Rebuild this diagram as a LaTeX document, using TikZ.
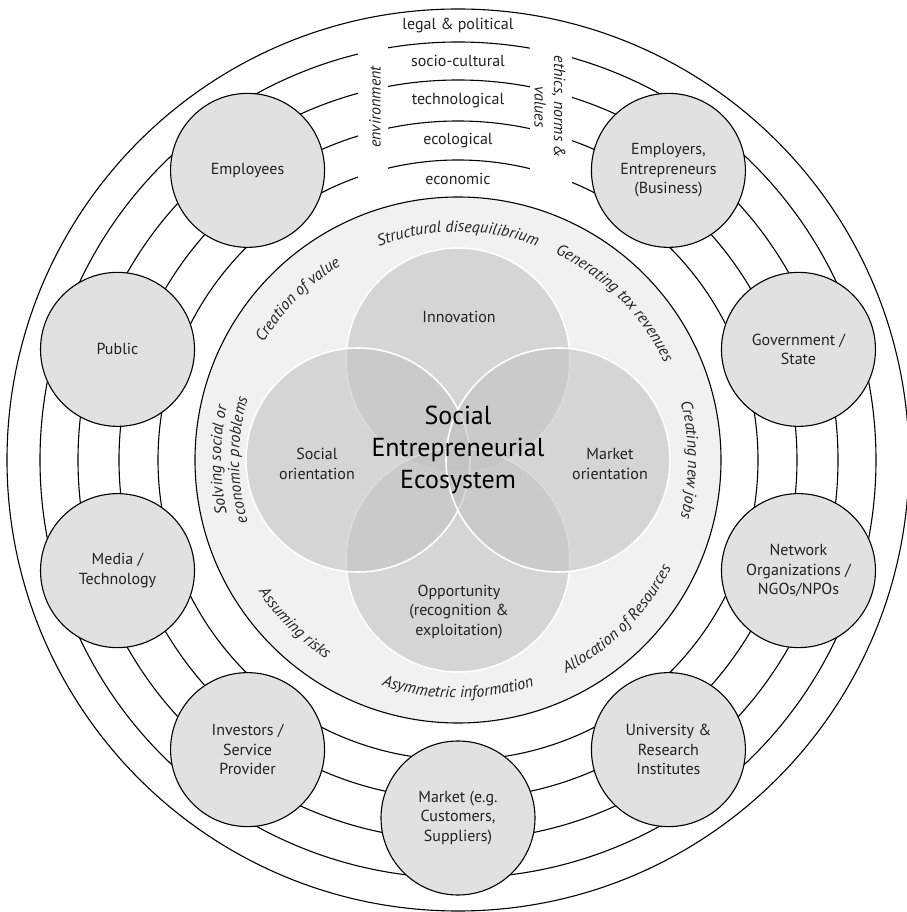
\documentclass[tikz,border=0pt]{standalone}
\usepackage{fontspec}
\setmainfont{PT Sans}
\usetikzlibrary{
	positioning,        %定位
	decorations.text    %沿路径的文字
}
\definecolor{actorgray}{HTML}{E1E1E1}
\definecolor{discgray}{HTML}{F1F1F1}
\definecolor{venngray}{HTML}{C3C3C3}
\definecolor{txtgray}{HTML}{222222}
\newcommand{\smallfont}{\fontsize{16}{19.5}\selectfont}
\newcommand{\lblfont}{\itshape\fontsize{16}{19}\selectfont}
%沿圆弧写斜体字
\newcommand{\arclabel}[4]{%
	\path[decorate,decoration={text along path,text align=center,
		text color=txtgray,text={|\lblfont|#4}}]
	(#1:#3) arc[start angle=#1,end angle=#2,radius=#3];}
\tikzset{
	every picture/.style={
		>=latex,
		node distance=5mm and 5mm
	},
	ring/.style={draw=black,line width=1.1pt},
	actor/.style={circle,draw=black,line width=1.1pt,fill=actorgray,
		minimum size=154pt,inner sep=0pt,align=center,
		text=txtgray,font=\smallfont},
	layer/.style={text=txtgray,font=\smallfont,inner sep=1pt},
	venn/.style={circle,fill=venngray,fill opacity=0.6,draw=white,
		line width=1.6pt,minimum size=224pt,inner sep=0pt},
	vlabel/.style={align=center,text=txtgray,font=\smallfont}
}

\begin{document}
\begin{tikzpicture}
\useasboundingbox (-458pt,-452pt) rectangle (448pt,460pt);
%外圈和各层圆环
\draw[ring,fill=white] (0,0) circle (451pt);
\foreach \r in {418,380,339,300}
	\draw[ring] (0,0) circle (\r pt);
%顶部两条空隙
\fill[white] (-100pt,265pt) rectangle (-70pt,425pt);
\fill[white] (72pt,265pt) rectangle (114pt,425pt);
%各层名称
\node[layer] (legal) at (0,434.5pt) {legal \& political};
\node[layer] (socio) at (0,399pt) {socio-cultural};
\node[layer] (techno) at (0,359.5pt) {technological};
\node[layer] (ecolog) at (0,319.5pt) {ecological};
\node[layer] (econ) at (0,281.5pt) {economic};
\node[layer,font=\smallfont\itshape,rotate=90] (environ) at (-83pt,353pt) {environment};
\node[layer,font=\smallfont\itshape,rotate=-90,align=center] (ethics) at (92pt,353pt) {ethics, norms \&\\values};
%外围的参与者
\node[actor] (employees) at (126:358pt) {Employees};
\node[actor] (business) at (54:358pt) {Employers,\\Entrepreneurs\\(Business)};
\node[actor] (government) at (18:358pt) {Government /\\State};
\node[actor] (network) at (-18:358pt) {Network\\Organizations /\\NGOs/NPOs};
\node[actor] (university) at (-54:358pt) {University \&\\Research\\Institutes};
\node[actor] (market) at (-90:358pt) {Market (e.g.\\Customers,\\Suppliers)};
\node[actor] (investors) at (-126:358pt) {Investors /\\Service\\Provider};
\node[actor] (media) at (-162:358pt) {Media /\\Technology};
\node[actor] (public) at (162:358pt) {Public};
%内圆
\draw[ring,fill=discgray] (0,0) circle (263pt);
%四个相交的圆
\node[venn] (innov) at (0,100pt) {};
\node[venn] (oppor) at (0,-100pt) {};
\node[venn] (social) at (-100pt,0) {};
\node[venn] (marketo) at (100pt,0) {};
\node[vlabel] (innovlbl) at (1pt,143pt) {Innovation};
\node[vlabel] (opporlbl) at (1pt,-152pt) {Opportunity\\(recognition \&\\exploitation)};
\node[vlabel] (sociallbl) at (-141pt,-4pt) {Social\\orientation};
\node[vlabel] (marketlbl) at (152pt,-4pt) {Market\\orientation};
\node[align=center,font=\fontsize{26}{32}\selectfont] (core) at (0,10pt) {Social\\Entrepreneurial\\Ecosystem};
%内圆上的斜体字
\arclabel{125}{55}{228pt}{Structural disequilibrium}
\arclabel{80}{10}{228pt}{Generating tax revenues}
\arclabel{35}{-35}{230pt}{Creating new jobs}
\arclabel{170}{100}{227pt}{Creation of value}
\arclabel{215}{145}{237pt}{Solving social or}
\arclabel{215}{145}{219pt}{economic problems}
\arclabel{190}{260}{239pt}{Assuming risks}
\arclabel{235}{305}{238pt}{Asymmetric information}
\arclabel{280}{350}{239pt}{Allocation of Resources}
\end{tikzpicture}
\end{document}
